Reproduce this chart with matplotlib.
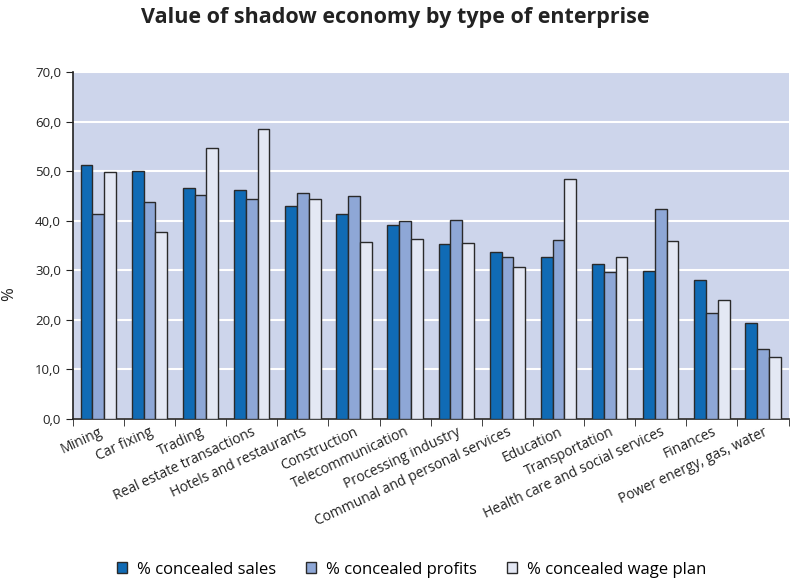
import numpy as np
import matplotlib.pyplot as plt
from matplotlib.ticker import FuncFormatter

plt.rcParams['font.family'] = ['Open Sans', 'DejaVu Sans']

# Data
sectors = ['Mining', 'Car fixing', 'Trading', 'Real estate transactions',
           'Hotels and restaurants', 'Construction', 'Telecommunication',
           'Processing industry', 'Communal and personal services', 'Education',
           'Transportation', 'Health care and social services', 'Finances',
           'Power energy, gas, water']
concealed_sales = [51.2, 50.1, 46.5, 46.1, 42.9, 41.3, 39.1, 35.2, 33.6, 32.7, 31.2, 29.8, 28.0, 19.3]
concealed_profits = [41.3, 43.8, 45.1, 44.3, 45.5, 44.9, 39.9, 40.2, 32.7, 36.1, 29.6, 42.4, 21.3, 14.1]
concealed_wage = [49.9, 37.7, 54.6, 58.6, 44.4, 35.6, 36.3, 35.4, 30.7, 48.4, 32.7, 35.9, 23.9, 12.4]

series = [
    ('% concealed sales', concealed_sales, '#106bb5'),
    ('% concealed profits', concealed_profits, '#8ea7d6'),
    ('% concealed wage plan', concealed_wage, '#e4e8f4'),
]

fig = plt.figure(figsize=(7.91, 5.81), dpi=100)
ax = fig.add_axes([0.092, 0.279, 0.905, 0.597])
ax.set_facecolor('#cdd5eb')

x = np.arange(len(sectors))
w = 0.23
for i, (name, vals, col) in enumerate(series):
    ax.bar(x + (i - 1) * w, vals, w, color=col, edgecolor='#2a2a2a',
           linewidth=1.0, label=name, zorder=3)

ax.set_xlim(-0.5, len(sectors) - 0.5)
ax.set_ylim(0, 70)
ax.set_yticks(np.arange(0, 71, 10))
ax.yaxis.set_major_formatter(FuncFormatter(lambda v, p: f'{v:.1f}'.replace('.', ',')))
ax.yaxis.grid(True, color='white', linewidth=1.5, zorder=0)
ax.set_axisbelow(True)

ax.set_xticks(x)
ax.set_xticklabels(sectors, rotation=25, ha='right', rotation_mode='anchor',
                   fontsize=10, color='#222222')
ax.tick_params(axis='x', length=0, pad=4)
ax.set_xticks(np.arange(-0.5, len(sectors), 1), minor=True)
ax.tick_params(axis='x', which='minor', length=5, direction='out', color='#222222')
ax.tick_params(axis='y', length=5, direction='out', labelsize=9.5, color='#222222',
               labelcolor='#222222')

for s in ['top', 'right']:
    ax.spines[s].set_visible(False)
for s in ['left', 'bottom']:
    ax.spines[s].set_color('#222222')
    ax.spines[s].set_linewidth(1.2)

ax.set_ylabel('%', fontsize=12, color='#222222')
ax.yaxis.set_label_coords(-0.078, 0.36)

fig.suptitle('Value of shadow economy by type of enterprise', fontsize=15.5,
             fontweight='bold', color='#222222', y=0.988)

fig.legend(loc='lower center', bbox_to_anchor=(0.52, -0.02), ncol=3, frameon=False,
           fontsize=12, handlelength=0.6, handleheight=0.6, columnspacing=1.8,
           handletextpad=0.6)

plt.savefig('out.png', dpi=100)
